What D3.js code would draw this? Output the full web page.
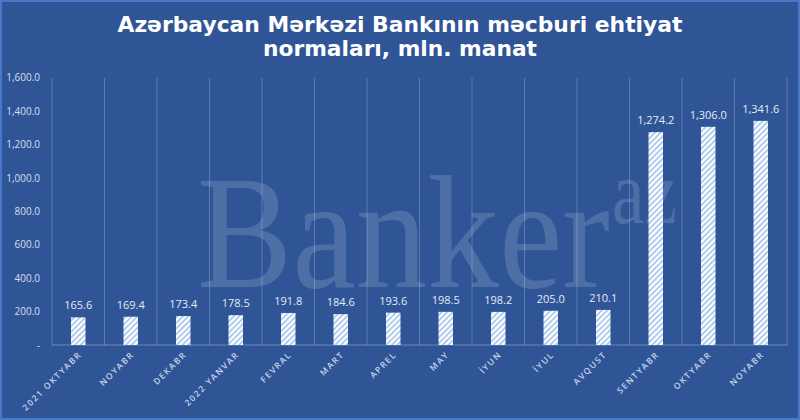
<!DOCTYPE html>
<html><head><meta charset="utf-8">
<script src="https://cdn.jsdelivr.net/npm/d3@7/dist/d3.min.js"></script>
<style>html,body{margin:0;padding:0;background:#2F5597;}svg{display:block}</style>
</head><body>
<svg id="c" width="800" height="420"></svg>
<script>
const categories = ["2021 OKTYABR","NOYABR","DEKABR","2022 YANVAR","FEVRAL","MART","APREL","MAY","İYUN","İYUL","AVQUST","SENTYABR","OKTYABR","NOYABR "];
const values = [165.6,169.4,173.4,178.5,191.8,184.6,193.6,198.5,198.2,205.0,210.1,1274.2,1306.0,1341.6];
const yTicks = [0,200,400,600,800,1000,1200,1400,1600];
const titleLines = ["Azərbaycan Mərkəzi Bankının məcburi ehtiyat","normaları, mln. manat"];

const W=800,H=420;
const m={l:52,r:13,t:77.7,b:75};
const svg=d3.select("#c");
svg.append("rect").attr("x",1).attr("y",1).attr("width",W-2).attr("height",H-2)
  .attr("fill","#2F5597").attr("stroke","#4A78C8").attr("stroke-width",2);

const defs=svg.append("defs");
const pat=defs.append("pattern").attr("id","hatch").attr("patternUnits","userSpaceOnUse")
  .attr("width",4).attr("height",4).attr("patternTransform","rotate(45)");
pat.append("rect").attr("width",4).attr("height",4).attr("fill","#FFFFFF");
pat.append("rect").attr("width",1.8).attr("height",4).attr("fill","#A9C8EC");

// title
const titleW=[565,274];
svg.append("g").selectAll("text").data(titleLines).join("text")
  .attr("x",(d,i)=>400-titleW[i]/2).attr("y",(d,i)=>31.5+i*24.5)
  .attr("textLength",(d,i)=>titleW[i]).attr("lengthAdjust","spacingAndGlyphs")
  .attr("font-family","'DejaVu Sans', sans-serif").attr("font-weight","bold")
  .attr("font-size",21).attr("fill","#FFFFFF").text(d=>d);

const x=d3.scaleBand().domain(categories).range([m.l,W-m.r]).paddingInner(0).paddingOuter(0);
const y=d3.scaleLinear().domain([0,1600]).range([H-m.b,m.t]);

// watermark
const wm=svg.append("g").attr("fill","#FFFFFF").attr("fill-opacity",0.15)
  .attr("font-family","'Liberation Serif','DejaVu Serif',serif");
wm.append("text").attr("x",197).attr("y",287).attr("font-size",160)
  .attr("textLength",413).attr("lengthAdjust","spacingAndGlyphs").text("Banker");
wm.append("text").attr("x",612).attr("y",223).attr("font-size",92)
  .attr("textLength",65).attr("lengthAdjust","spacingAndGlyphs").text("az");

// vertical gridlines at category boundaries
const bounds=categories.map(c=>x(c)).concat([x(categories[categories.length-1])+x.bandwidth()]);
svg.append("g").selectAll("line").data(bounds).join("line")
  .attr("x1",d=>d).attr("x2",d=>d).attr("y1",y(1600)).attr("y2",y(0))
  .attr("stroke","#FFFFFF").attr("stroke-opacity",0.22).attr("stroke-width",1);
svg.append("line").attr("x1",bounds[0]).attr("x2",bounds[bounds.length-1])
  .attr("y1",y(0)).attr("y2",y(0)).attr("stroke","#FFFFFF").attr("stroke-opacity",0.3);

// y axis labels
const fmt=d3.format(",.1f");
const yAxis=d3.axisLeft(y).tickValues(yTicks).tickSize(0).tickPadding(12)
  .tickFormat(d=>d===0?"-":fmt(d));
const ya=svg.append("g").attr("transform",`translate(${m.l},0)`).call(yAxis);
ya.select(".domain").remove();
ya.selectAll("text").attr("fill","#D6DEEE").attr("font-size",10)
  .attr("font-family","'Open Sans','DejaVu Sans',sans-serif");

// bars
const bw=14.5;
svg.append("g").selectAll("rect").data(values).join("rect")
  .attr("x",(d,i)=>x(categories[i])+x.bandwidth()/2-bw/2).attr("width",bw)
  .attr("y",d=>y(d)).attr("height",d=>y(0)-y(d)).attr("fill","url(#hatch)");

// value labels
svg.append("g").selectAll("text").data(values).join("text")
  .attr("x",(d,i)=>x(categories[i])+x.bandwidth()/2).attr("y",d=>y(d)-8)
  .attr("text-anchor","middle").attr("fill","#E4EAF5").attr("font-size",11)
  .attr("font-family","'Open Sans','DejaVu Sans',sans-serif").text(d=>fmt(d));

// x labels
const xAxis=d3.axisBottom(x).tickSize(0).tickPadding(0);
const xa=svg.append("g").attr("transform",`translate(0,${y(0)})`).call(xAxis);
xa.select(".domain").remove();
xa.selectAll("text").attr("fill","#C8D3EA").attr("font-size",8.5)
  .attr("font-family","'Open Sans','DejaVu Sans',sans-serif").attr("font-weight","600")
  .attr("letter-spacing","1.6px")
  .attr("text-anchor","end").attr("dy",null).attr("y",0)
  .attr("transform","translate(4,10) rotate(-45)")
  .text(d=>d.trim());
</script>
</body></html>
